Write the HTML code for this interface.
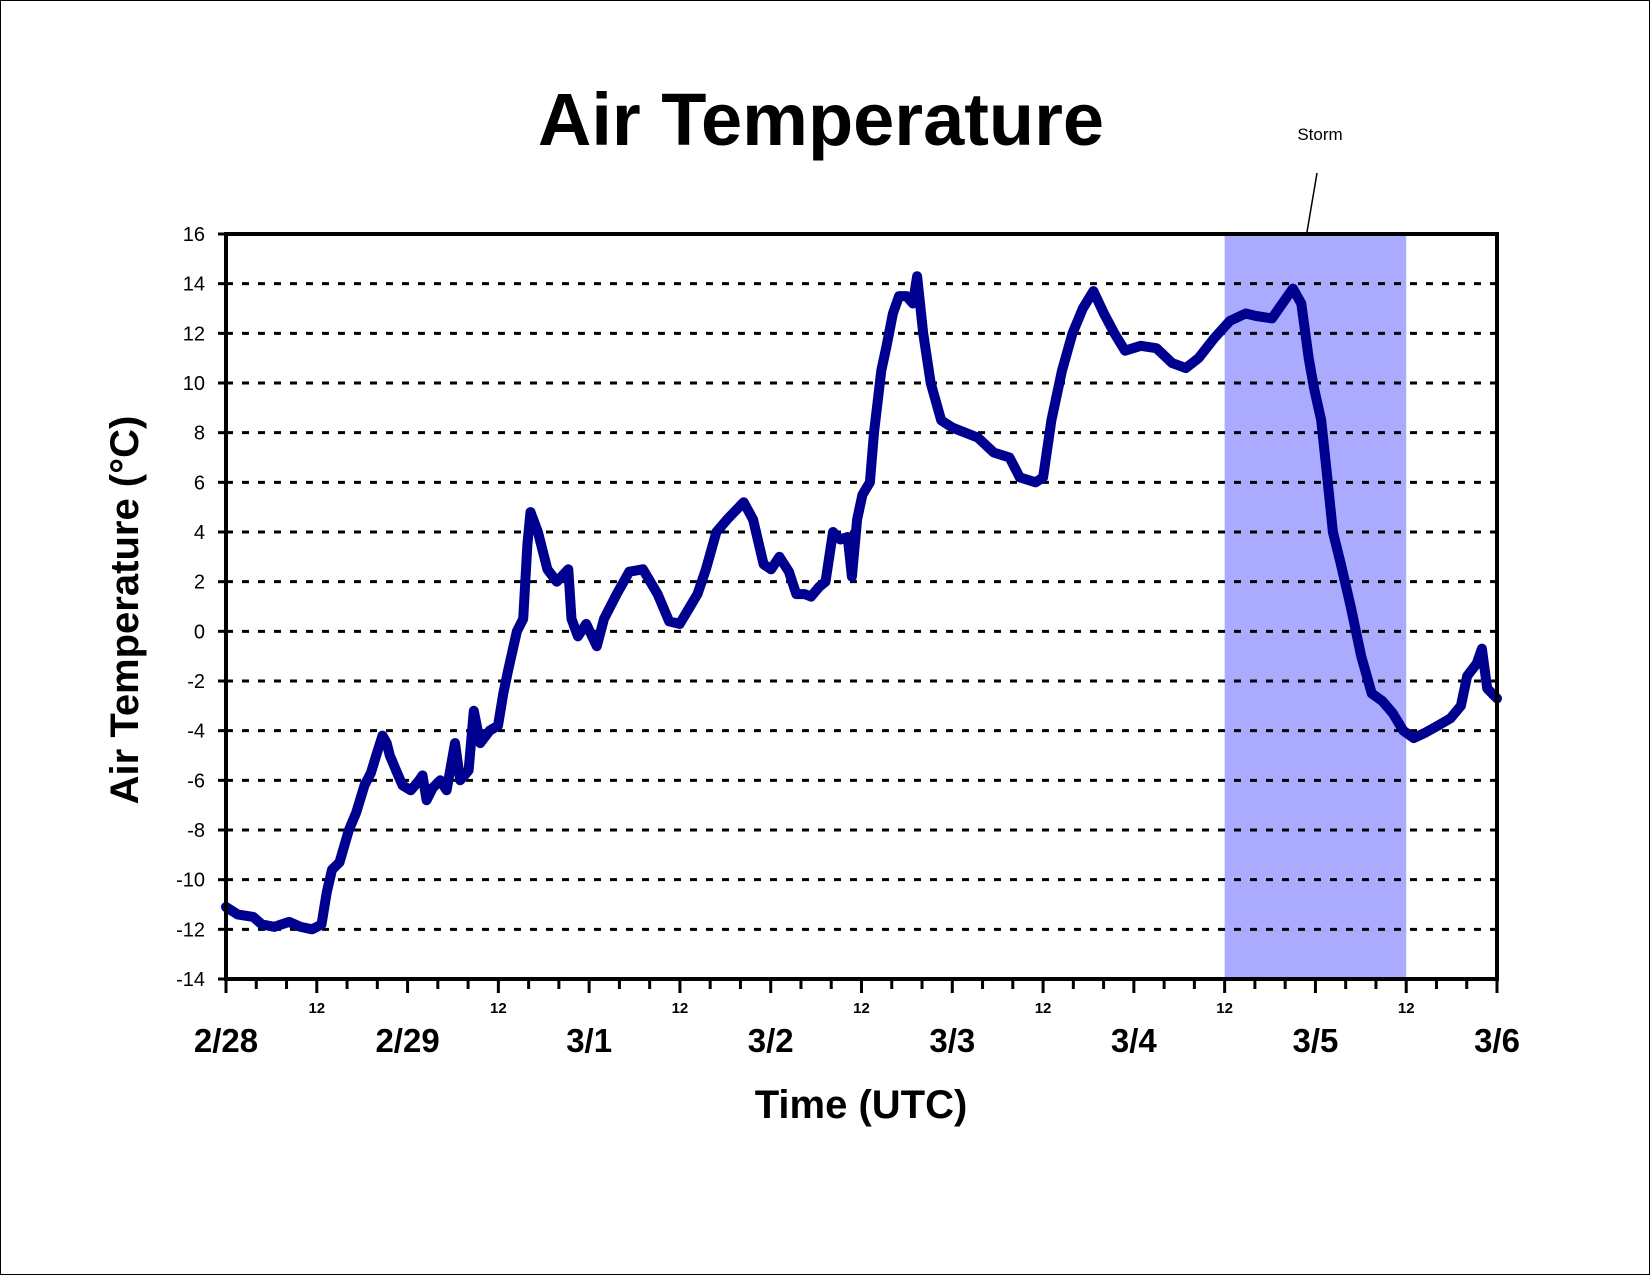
<!DOCTYPE html>
<html><head><meta charset="utf-8"><style>
html,body{margin:0;padding:0;background:#fff;}
svg{display:block;}
text{font-family:"Liberation Sans",Arial,sans-serif;}
</style></head><body>
<svg id="chart" width="1650" height="1275" viewBox="0 0 1650 1275">
<rect x="0.5" y="0.5" width="1649" height="1274" fill="#fff" stroke="#000" stroke-width="1"/>
<text x="821" y="145" font-size="74" font-weight="bold" text-anchor="middle">Air Temperature</text>
<text x="1320" y="140" font-size="17" text-anchor="middle">Storm</text>
<line x1="1317" y1="173" x2="1307" y2="232" stroke="#000" stroke-width="1.5"/>
<g id="plot"></g>
<text x="861" y="1118" font-size="40" font-weight="bold" text-anchor="middle">Time (UTC)</text>
<text transform="translate(138,610) rotate(-90)" font-size="40" font-weight="bold" text-anchor="middle">Air Temperature (°C)</text>
</svg>
<script>
const days = [0,0.064,0.150,0.197,0.266,0.347,0.411,0.474,0.526,0.555,0.584,0.625,0.677,0.717,0.763,0.798,0.827,0.862,0.885,0.902,0.937,0.972,1.018,1.064,1.082,1.105,1.139,1.180,1.215,1.249,1.261,1.290,1.336,1.365,1.400,1.452,1.498,1.527,1.556,1.602,1.637,1.660,1.677,1.718,1.770,1.822,1.885,1.903,1.938,1.984,2.042,2.082,2.152,2.221,2.296,2.377,2.441,2.499,2.556,2.597,2.643,2.701,2.759,2.851,2.903,2.961,3.002,3.048,3.100,3.141,3.187,3.222,3.268,3.302,3.343,3.383,3.424,3.447,3.476,3.505,3.546,3.569,3.609,3.638,3.673,3.707,3.748,3.783,3.806,3.840,3.881,3.939,4.002,4.141,4.228,4.315,4.372,4.459,4.500,4.546,4.604,4.662,4.719,4.777,4.835,4.893,4.951,5.038,5.124,5.211,5.286,5.356,5.442,5.529,5.616,5.674,5.761,5.818,5.876,5.922,5.963,5.992,6.032,6.061,6.096,6.137,6.194,6.252,6.310,6.368,6.426,6.484,6.541,6.599,6.674,6.744,6.801,6.836,6.888,6.917,6.946,7.0];
const temps = [-11.1,-11.4,-11.5,-11.8,-11.9,-11.7,-11.9,-12.0,-11.8,-10.5,-9.6,-9.3,-8.0,-7.3,-6.2,-5.7,-5.0,-4.2,-4.5,-5.0,-5.6,-6.2,-6.4,-6.0,-5.8,-6.8,-6.3,-6.0,-6.4,-5.0,-4.5,-6.0,-5.6,-3.2,-4.5,-4.0,-3.8,-2.5,-1.5,0,0.5,3.5,4.8,4.0,2.5,2.0,2.5,0.5,-0.2,0.3,-0.6,0.5,1.5,2.4,2.5,1.5,0.4,0.3,1.0,1.5,2.5,4.0,4.5,5.2,4.5,2.7,2.5,3.0,2.4,1.5,1.5,1.4,1.8,2.0,4.0,3.7,3.8,2.2,4.5,5.5,6.0,8.0,10.5,11.5,12.8,13.5,13.5,13.2,14.3,12.0,10.0,8.5,8.2,7.8,7.2,7.0,6.2,6.0,6.2,8.5,10.5,12.0,13.0,13.7,12.8,12.0,11.3,11.5,11.4,10.8,10.6,11.0,11.8,12.5,12.8,12.7,12.6,13.2,13.8,13.2,11.0,9.8,8.5,6.5,4.0,2.8,1.0,-1.0,-2.5,-2.8,-3.3,-4.0,-4.3,-4.1,-3.8,-3.5,-3.0,-1.8,-1.3,-0.7,-2.3,-2.7];
const yTicks = [16,14,12,10,8,6,4,2,0,-2,-4,-6,-8,-10,-12,-14];
const dayLabels = ["2/28","2/29","3/1","3/2","3/3","3/4","3/5","3/6"];
const stormStart = 5.5, stormEnd = 6.5;

const NS="http://www.w3.org/2000/svg";
const g=document.getElementById('plot');
const L=226,R=1497,T=234,B=979;
const xS=d=>L+(R-L)*d/7;
const yS=v=>T+(B-T)*(16-v)/30;
function mk(tag,attrs){const e=document.createElementNS(NS,tag);for(const k in attrs)e.setAttribute(k,attrs[k]);g.appendChild(e);return e;}

let e=mk('rect',{x:xS(stormStart),y:T,width:xS(stormEnd)-xS(stormStart),height:B-T,fill:'#aaaaff'});



yTicks.forEach(v=>{
  if(v!==16&&v!==-14){
    const l=mk('line',{x1:L,x2:R,y1:yS(v),y2:yS(v),stroke:'#000','stroke-width':3,'stroke-dasharray':'7 9'});
    
    
  }
  const t=mk('line',{x1:L-8,x2:L,y1:yS(v),y2:yS(v),stroke:'#000','stroke-width':3});
  
  
  const tx=mk('text',{x:205,y:yS(v)+7,'font-size':20,'text-anchor':'end'});
  tx.textContent=v;
  
  
});

for(let i=0;i<=42;i++){
  const d=i/6;
  const big=(i%3===0);
  const t=mk('line',{x1:xS(d),x2:xS(d),y1:B,y2:B+(big?14:10),stroke:'#000','stroke-width':3});
  
  
}
for(let k=0;k<7;k++){
  const t=mk('text',{x:xS(k+0.5),y:1013,'font-size':15,'font-weight':'bold','text-anchor':'middle'});
  t.textContent='12';
  
  
}
dayLabels.forEach((s,i)=>{
  const t=mk('text',{x:xS(i),y:1052,'font-size':33,'font-weight':'bold','text-anchor':'middle'});
  t.textContent=s;
  
  
});

const pts=days.map((d,i)=>xS(d).toFixed(1)+','+yS(temps[i]).toFixed(1)).join(' ');
const line=mk('polyline',{points:pts,fill:'none',stroke:'#000090','stroke-width':10,'stroke-linejoin':'round','stroke-linecap':'round'});



const ax=mk('path',{d:`M${L},${B} L${L},${T} L${R},${T} L${R},${B} Z`,fill:'none',stroke:'#000','stroke-width':4});


</script>
</body></html>
